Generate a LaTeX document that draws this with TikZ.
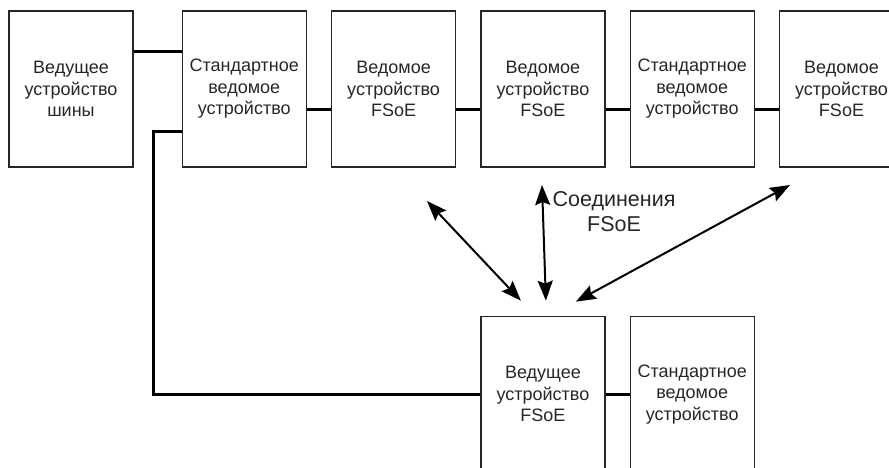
\documentclass[tikz,border=0pt]{standalone}
\usepackage{fontspec}
\setmainfont{Liberation Sans}
\usetikzlibrary{arrows.meta}
\begin{document}
\begin{tikzpicture}[x=1pt,y=-1pt,
  dev/.style={rectangle, draw=black!85, line width=1.3pt, minimum width=124pt, minimum height=156pt, text width=120pt, align=center, inner sep=0pt, text=black!85, font=\fontsize{18}{21.5}\selectfont},
  bus/.style={line width=3pt},
  conn/.style={line width=2pt, {Stealth[length=20pt,width=15pt,inset=3pt]}-{Stealth[length=20pt,width=15pt,inset=3pt]}}]
\useasboundingbox (0,0) rectangle (889,468);
\clip (0,0) rectangle (889,468);
% top row
\node[dev] (B1) at (71,89) {Ведущее\\устройство\\шины};
\node[dev, anchor=west] (S1) at ([xshift=48pt]B1.east) {Стандартное\\ведомое\\устройство};
\node[dev, anchor=west] (F1) at ([xshift=24pt]S1.east) {Ведомое\\устройство\\FSoE};
\node[dev, anchor=west] (F2) at ([xshift=24pt]F1.east) {Ведомое\\устройство\\FSoE};
\node[dev, anchor=west] (S2) at ([xshift=24pt]F2.east) {Стандартное\\ведомое\\устройство};
\node[dev, anchor=west] (F3) at ([xshift=24pt]S2.east) {Ведомое\\устройство\\FSoE};
% bottom row
\node[dev, anchor=north west] (M) at ([yshift=-148pt]F2.south west) {Ведущее\\устройство\\FSoE};
\node[dev, anchor=west] (S3) at ([xshift=24pt]M.east) {Стандартное\\ведомое\\устройство};
% bus
\draw[bus] ([yshift=37pt]B1.east) -- ([yshift=37pt]S1.west);
\draw[bus] ([yshift=-21pt]S1.east) -- ([yshift=-21pt]F1.west);
\draw[bus] ([yshift=-21pt]F1.east) -- ([yshift=-21pt]F2.west);
\draw[bus] ([yshift=-21pt]F2.east) -- ([yshift=-21pt]S2.west);
\draw[bus] ([yshift=-21pt]S2.east) -- ([yshift=-21pt]F3.west);
\draw[bus] ([yshift=-43pt]S1.west) -- ++(-28,0) |- (M.west);
\draw[bus] (M.east) -- (S3.west);
% FSoE connections
\coordinate (a1) at (427,201);
\coordinate (a2) at (542,185);
\coordinate (a3) at (790,185);
\draw[conn] (a1) -- ([xshift=-22pt,yshift=15pt]M.north);
\draw[conn] (a2) -- ([xshift=3pt,yshift=15pt]M.north);
\draw[conn] (a3) -- ([xshift=33pt,yshift=14pt]M.north);
\node[align=center, text=black!85, font=\fontsize{21.5}{25}\selectfont] (L) at (614,212) {Соединения\\FSoE};
\end{tikzpicture}
\end{document}
